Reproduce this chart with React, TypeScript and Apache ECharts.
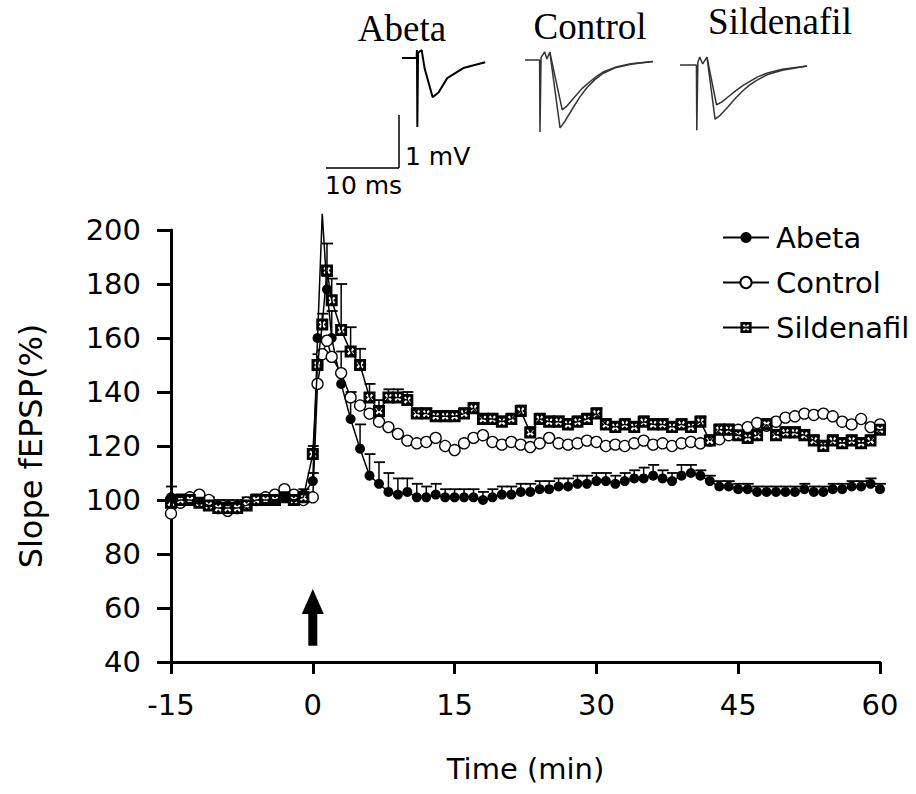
import React, { useEffect, useRef } from "react";
import * as echarts from "echarts";

// ---- main time course data (Time in min, slope fEPSP in %) ----
const times = [
  -15, -14, -13, -12, -11, -10, -9, -8, -7, -6, -5, -4, -3, -2, -1,
  0, 0.5, 1, 1.5, 2,
  3, 4, 5, 6, 7, 8, 9, 10,
  11, 12, 13, 14, 15, 16, 17, 18, 19, 20,
  21, 22, 23, 24, 25, 26, 27, 28, 29, 30,
  31, 32, 33, 34, 35, 36, 37, 38, 39, 40,
  41, 42, 43, 44, 45, 46, 47, 48, 49, 50,
  51, 52, 53, 54, 55, 56, 57, 58, 59, 60,
];

const abeta = [
  101, 100, 100, 100, 99, 98, 98, 98, 99, 100, 100, 100, 101, 101, 102,
  107, 160, 206, 178, 160,
  143, 130, 119, 109, 106, 103, 102, 103,
  101, 101, 102, 101, 101, 101, 101, 100, 101, 102,
  102, 103, 103, 104, 104, 105, 105, 106, 106, 107,
  107, 106, 107, 108, 108, 109, 108, 107, 109, 110,
  109, 107, 105, 105, 104, 104, 103, 103, 103, 103,
  103, 104, 103, 103, 104, 104, 105, 105, 106, 104,
];

const control = [
  95, 99, 101, 102, 100, 97, 96, 97, 99, 100, 101, 102, 104, 102, 100,
  101, 143, 154, 159, 153,
  147, 138, 135, 132, 129, 127, 124.5, 122,
  121, 121.5, 123, 120, 118.5, 121, 123, 124, 121.5, 120.5,
  121.5, 120.5, 119.6, 121, 123, 121, 120.5, 121, 122, 121.5,
  120, 120.5, 120, 121, 122, 120.5, 121, 120, 121, 121.5,
  121, 122, 122.5, 124, 126, 127, 128.5, 127.5, 129, 130.5,
  131, 132, 131.5, 132, 131, 129, 128, 130, 127, 128,
];

const sildenafil = [
  99, 100, 100, 99, 98, 97, 97, 97, 98, 100, 100, 100, 101, 100, 101,
  117, 150, 165, 185, 174,
  163, 155, 150, 138, 133, 138, 138, 137,
  132, 132, 131, 131, 131, 132, 134, 130, 130, 129,
  130, 133, 125, 130, 129, 129, 128, 129, 130, 132,
  128, 127, 128, 127, 129, 128, 128, 127, 128, 127,
  129, 122, 126, 126, 124, 123, 124, 128, 124, 125,
  125, 124, 122, 120, 122, 121, 122, 121, 122, 126,
];

// upper SEM
const errAbeta = [
  4, 2, 2, 2, 2, 2, 2, 2, 2, 2, 2, 2, 2, 2, 2,
  3, 0, 0, 5, 10,
  12, 10, 9, 8, 8, 7, 6, 5,
  5, 4, 4, 3, 3, 3, 3, 3, 3, 3,
  3, 3, 3, 3, 3, 3, 3, 3, 3, 3,
  3, 3, 3, 3, 4, 4, 3, 3, 4, 3,
  2, 2, 2, 2, 2, 2, 2, 2, 2, 2,
  2, 2, 2, 2, 2, 2, 2, 2, 2, 2,
];

const errSildenafil = [
  2, 2, 2, 2, 2, 2, 2, 2, 2, 2, 2, 2, 2, 2, 2,
  3, 4, 4, 10, 8,
  17, 9, 6, 5, 4, 3, 3, 3,
  2, 2, 2, 2, 2, 2, 2, 2, 2, 2,
  2, 2, 2, 2, 2, 2, 2, 2, 2, 2,
  2, 2, 2, 2, 2, 2, 2, 2, 2, 2,
  2, 2, 2, 2, 2, 2, 2, 2, 2, 2,
  2, 2, 2, 2, 2, 2, 2, 2, 2, 2,
];

// stimulation arrow (time, from %, to %)
const arrowMark = [[0, 46, 67]];

const xTicks = { min: -15, max: 60, interval: 15 };
const yTicks = { min: 40, max: 200, interval: 20 };

// ---- example fEPSP traces (ms, mV) ----
const traceAbeta = [
  [0, 0], [2.0, 0], [2.05, 0.15], [2.1, -1.3], [2.2, 0.1], [2.7, 0.15], [3.1, -0.2],
  [4.2, -0.74], [5.0, -0.65], [6.2, -0.38], [8.4, -0.19], [11.4, -0.08],
];
const traceControlA = [
  [0, 0], [2.0, 0], [2.05, -1.36], [2.2, 0.05], [2.7, 0.15], [3.0, 0.02], [3.4, 0.15],
  [4.8, -1.28], [5.5, -1.15], [6.5, -0.92], [7.5, -0.7], [8.5, -0.52], [9.5, -0.38],
  [10.7, -0.25], [12.5, -0.14], [14.5, -0.08], [17.5, -0.03],
];
const traceControlB = [
  [3.4, 0.15], [5.1, -0.94], [5.8, -0.86], [6.8, -0.7], [7.8, -0.54], [8.8, -0.42],
  [9.8, -0.31], [10.8, -0.22], [12.5, -0.13], [14.5, -0.07], [17.5, -0.03],
];
const traceSildA = [
  [0, 0], [2.25, 0], [2.3, -1.23], [2.45, 0.05], [2.7, 0.15], [3.1, 0.02], [3.7, 0.15],
  [4.8, -1.02], [5.5, -0.95], [6.5, -0.8], [7.5, -0.64], [8.5, -0.5], [9.5, -0.38],
  [10.5, -0.29], [12, -0.18], [14, -0.1], [17.4, -0.02],
];
const traceSildB = [
  [3.7, 0.15], [5.0, -0.75], [5.7, -0.7], [6.7, -0.59], [7.7, -0.48], [8.7, -0.38],
  [9.7, -0.3], [10.7, -0.22], [12, -0.15], [14, -0.08], [17.4, -0.02],
];

const SANS = "DejaVu Sans";
const SERIF = "Liberation Serif";

const sildSymbol =
  "path://M0 0L10 0L10 10L0 10ZM7.97 6.7L6.27 5L7.97 3.3L6.7 2.03L5 3.73L3.3 2.03L2.03 3.3L3.73 5L2.03 6.7L3.3 7.97L5 6.27L6.7 7.97Z";

function mainData(vals: number[]) {
  return times.map((t, i) =>
    vals[i] > yTicks.max ? { value: [t, vals[i]], symbol: "none" } : [t, vals[i]]
  );
}

function errData(vals: number[], errs: number[]) {
  return times.map((t, i) => [t, vals[i], errs[i]]);
}

function errRender(params: any, api: any) {
  const x = api.value(0);
  const v = api.value(1);
  const e = api.value(2);
  if (!e || v + e > yTicks.max) return null;
  const p0 = api.coord([x, v]);
  const p1 = api.coord([x, v + e]);
  return {
    type: "group",
    children: [
      { type: "line", shape: { x1: p0[0], y1: p0[1], x2: p1[0], y2: p1[1] }, style: { stroke: "#000", lineWidth: 1.5 } },
      { type: "line", shape: { x1: p1[0] - 5, y1: p1[1], x2: p1[0] + 6, y2: p1[1] }, style: { stroke: "#000", lineWidth: 1.8 } },
    ],
  };
}

function arrowRender(params: any, api: any) {
  const x = api.value(0);
  const b = api.coord([x, api.value(1)]);
  const t = api.coord([x, api.value(2)]);
  const cx = b[0];
  const hw = 4.5;
  const headW = 11;
  const headL = 25;
  return {
    type: "polygon",
    shape: {
      points: [
        [cx - hw, b[1]], [cx - hw, t[1] + headL], [cx - headW, t[1] + headL], [cx, t[1]],
        [cx + headW, t[1] + headL], [cx + hw, t[1] + headL], [cx + hw, b[1]],
      ],
    },
    style: { fill: "#000" },
  };
}

function traceGrid(left: number, baseY: number) {
  // 1 ms = 7.3 px, 1 mV = 53 px ; y range -1.6..0.4 mV
  return { left, top: baseY - 0.4 * 53, width: 18 * 7.3, height: 2 * 53 };
}

export default function App() {
  const ref = useRef<HTMLDivElement>(null);
  useEffect(() => {
    document.body.style.margin = "0";
    const chart = echarts.init(ref.current!, null, { renderer: "svg" });
    const labelStyle = { fontSize: 29, fontFamily: SANS, color: "#000" };
    const hiddenX = (gi: number) => ({ type: "value", gridIndex: gi, min: 0, max: 18, show: false });
    const hiddenY = (gi: number) => ({ type: "value", gridIndex: gi, min: -1.6, max: 0.4, show: false });
    const traceLine = (name: string, gi: number, data: number[][], color: string, w: number) => ({
      type: "line",
      name,
      xAxisIndex: gi,
      yAxisIndex: gi,
      data,
      showSymbol: false,
      symbol: "none",
      lineStyle: { color, width: w },
      silent: true,
      clip: false,
    });
    const option: any = {
      animation: false,
      backgroundColor: "#fff",
      grid: [
        { left: 171, top: 230, right: 36, bottom: 132 },
        traceGrid(402, 58),
        traceGrid(525, 60),
        traceGrid(680, 65),
      ],
      xAxis: [
        {
          type: "value",
          gridIndex: 0,
          min: xTicks.min,
          max: xTicks.max,
          interval: xTicks.interval,
          axisLine: { onZero: false, lineStyle: { color: "#000", width: 3 } },
          axisTick: { length: 12, lineStyle: { color: "#000", width: 3 } },
          axisLabel: { ...labelStyle, margin: 28 },
          splitLine: { show: false },
          name: "Time (min)",
          nameLocation: "middle",
          nameGap: 92,
          nameTextStyle: { ...labelStyle },
        },
        hiddenX(1),
        hiddenX(2),
        hiddenX(3),
      ],
      yAxis: [
        {
          type: "value",
          gridIndex: 0,
          min: yTicks.min,
          max: yTicks.max,
          interval: yTicks.interval,
          axisLine: { show: true, onZero: false, lineStyle: { color: "#000", width: 3 } },
          axisTick: { show: true, length: 14, lineStyle: { color: "#000", width: 3 } },
          axisLabel: { ...labelStyle, margin: 30 },
          splitLine: { show: false },
          name: "Slope fEPSP(%)",
          nameLocation: "middle",
          nameGap: 124,
          nameTextStyle: { ...labelStyle, fontSize: 32 },
        },
        hiddenY(1),
        hiddenY(2),
        hiddenY(3),
      ],
      legend: {
        data: ["Abeta", "Control", "Sildenafil"],
        orient: "vertical",
        left: 717,
        top: 218,
        itemWidth: 46,
        itemHeight: 14,
        itemGap: 16,
        textStyle: { ...labelStyle, padding: [0, 0, 0, 2] },
        selectedMode: false,
      },
      graphic: [
        { type: "text", style: { text: "Abeta", x: 402, y: 28, font: `37px "${SERIF}"`, fill: "#000", textAlign: "center", textVerticalAlign: "middle", align: "center", verticalAlign: "middle" } },
        { type: "text", style: { text: "Control", x: 590, y: 26, font: `37px "${SERIF}"`, fill: "#000", textAlign: "center", textVerticalAlign: "middle", align: "center", verticalAlign: "middle" } },
        { type: "text", style: { text: "Sildenafil", x: 780, y: 21, font: `37px "${SERIF}"`, fill: "#000", textAlign: "center", textVerticalAlign: "middle", align: "center", verticalAlign: "middle" } },
        { type: "line", shape: { x1: 399, y1: 115, x2: 399, y2: 168 }, style: { stroke: "#000", lineWidth: 1.5 } },
        { type: "line", shape: { x1: 326, y1: 168, x2: 399, y2: 168 }, style: { stroke: "#000", lineWidth: 1.5 } },
        { type: "text", style: { text: "1 mV", x: 405, y: 156, font: `25px "${SANS}"`, fill: "#000", textAlign: "left", textVerticalAlign: "middle", align: "left", verticalAlign: "middle" } },
        { type: "text", style: { text: "10 ms", x: 325, y: 185, font: `25px "${SANS}"`, fill: "#000", textAlign: "left", textVerticalAlign: "middle", align: "left", verticalAlign: "middle" } },
      ],
      series: [
        {
          type: "custom",
          name: "Abeta SEM",
          renderItem: errRender,
          data: errData(abeta, errAbeta),
          encode: { x: 0, y: 1 },
          silent: true,
          z: 1,
        },
        {
          type: "custom",
          name: "Sildenafil SEM",
          renderItem: errRender,
          data: errData(sildenafil, errSildenafil),
          encode: { x: 0, y: 1 },
          silent: true,
          z: 1,
        },
        {
          type: "line",
          name: "Abeta",
          data: mainData(abeta),
          symbol: "circle",
          symbolSize: 10,
          itemStyle: { color: "#000" },
          lineStyle: { color: "#000", width: 1.5 },
          clip: false,
          z: 2,
        },
        {
          type: "line",
          name: "Control",
          data: mainData(control),
          symbol: "circle",
          symbolSize: 11,
          itemStyle: { color: "#fff", borderColor: "#000", borderWidth: 1.3 },
          lineStyle: { color: "#000", width: 1.5 },
          clip: false,
          z: 3,
        },
        {
          type: "line",
          name: "Sildenafil",
          data: mainData(sildenafil),
          symbol: sildSymbol,
          symbolSize: 12,
          itemStyle: { color: "#000" },
          lineStyle: { color: "#000", width: 1.5 },
          clip: false,
          z: 4,
        },
        {
          type: "custom",
          name: "stimulus",
          renderItem: arrowRender,
          data: arrowMark,
          encode: { x: 0, y: 1 },
          silent: true,
        },
        traceLine("trace-abeta", 1, traceAbeta, "#000", 2),
        traceLine("trace-control-a", 2, traceControlA, "#333", 1.5),
        traceLine("trace-control-b", 2, traceControlB, "#333", 1.5),
        traceLine("trace-sild-a", 3, traceSildA, "#333", 1.5),
        traceLine("trace-sild-b", 3, traceSildB, "#333", 1.5),
      ],
    };
    chart.setOption(option);
    return () => chart.dispose();
  }, []);
  return <div ref={ref} style={{ width: 916, height: 794 }} />;
}
